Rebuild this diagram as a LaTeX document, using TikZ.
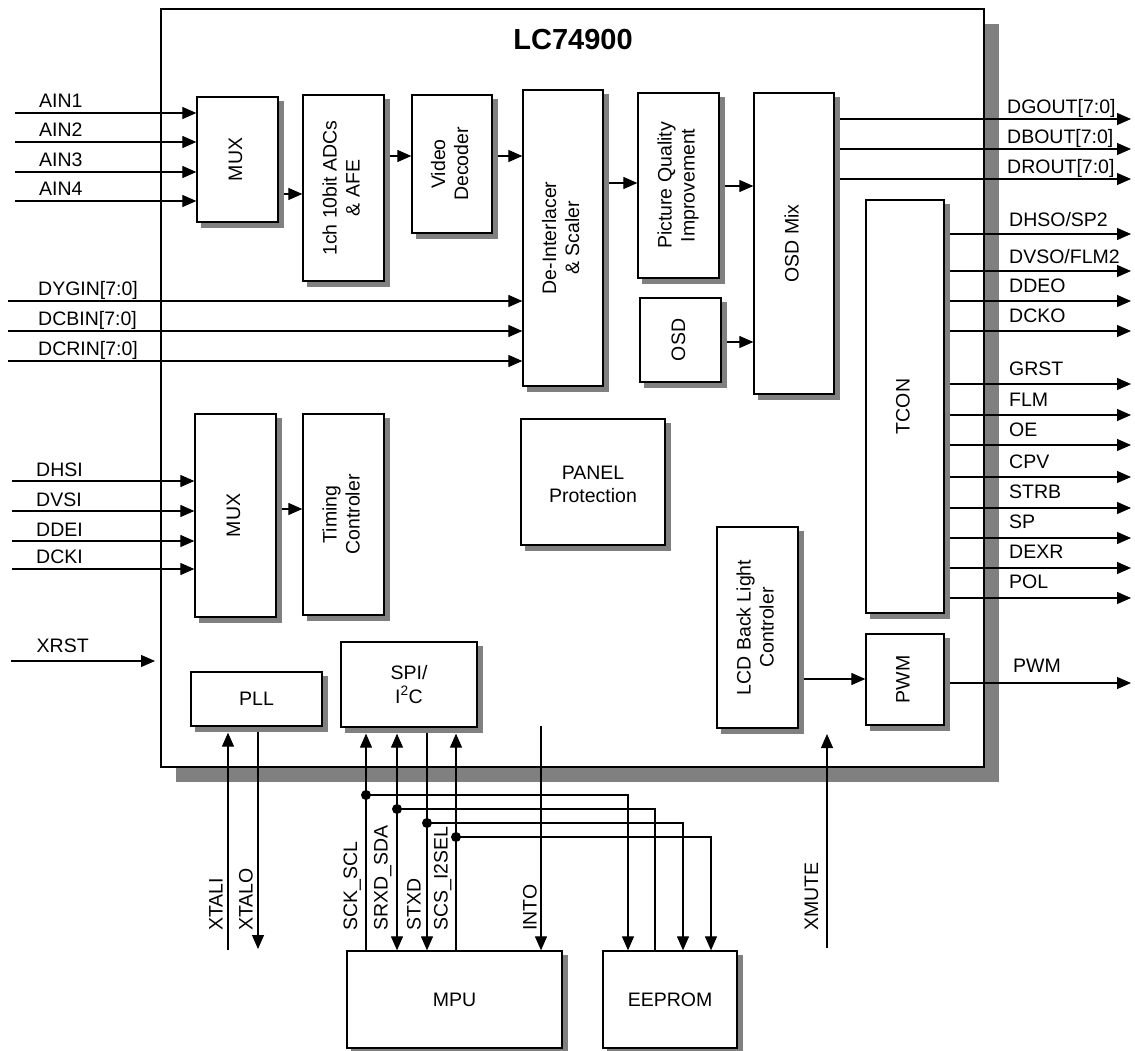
\documentclass[tikz,border=0pt]{standalone}
\usepackage{fontspec}
\usepackage{graphicx}
\setmainfont{Liberation Sans}
\usetikzlibrary{arrows.meta}
\definecolor{shgray}{RGB}{128,128,128}
\pgfdeclarelayer{bg}\pgfdeclarelayer{wires}\pgfdeclarelayer{shad}
\pgfsetlayers{bg,wires,shad,main}
\tikzset{
 blk/.style={draw, line width=1.3pt, fill=white, inner sep=0pt},
 wire/.style={line width=1.2pt},
 arr/.style={wire, -{Triangle[length=14pt,width=12pt]}},
 biarr/.style={wire, {Triangle[length=14pt,width=12pt]}-{Triangle[length=14pt,width=12pt]}},
 lbl/.style={inner sep=0pt, anchor=base west},
 vlbl/.style={inner sep=0pt, anchor=base west, rotate=90},
 jdot/.style={circle, fill, inner sep=0pt, minimum size=10pt},
}
\newcommand\vtxt[1]{\rotatebox{90}{\begin{tabular}{@{}c@{}}#1\end{tabular}}}
\newcommand\htxt[1]{\begin{tabular}{@{}c@{}}#1\end{tabular}}
\newcommand\blkat[6]{\node[blk, minimum width={#4-#2}, minimum height={#5-#3}] (#1) at ({(#2+#4)/2},{(#3+#5)/2}) {#6};
 \begin{pgfonlayer}{shad}\fill[shgray] ([shift={(5pt,-5pt)}]#1.south west) rectangle ([shift={(5pt,-5pt)}]#1.north east);\end{pgfonlayer}}
\begin{document}
\begin{tikzpicture}[x=1pt,y=-1pt,font=\fontsize{19.5}{23}\selectfont]
\useasboundingbox (0,0) rectangle (1135,1051);

% chip
\begin{pgfonlayer}{bg}
\fill[shgray] (176,24) rectangle (999,782);
\node[draw, line width=2.7pt, fill=white, inner sep=0pt, minimum width=823, minimum height=758] (chip) at (572.5,388) {};
\end{pgfonlayer}
\node[font=\bfseries\fontsize{29}{34}\selectfont, anchor=base, inner sep=0pt] (title) at (573,50) {LC74900};

% blocks
\blkat{mux1}{197}{97}{278}{222}{\vtxt{MUX}}
\blkat{adc}{303}{95}{384}{281}{\vtxt{1ch 10bit ADCs\\\& AFE}}
\blkat{vdec}{412}{95}{492}{233}{\vtxt{Video\\Decoder}}
\blkat{deint}{523}{90}{603}{386}{\vtxt{De-Interlacer\\\& Scaler}}
\blkat{pqi}{638}{93}{719}{278}{\vtxt{Picture Quality\\Improvement}}
\blkat{osd}{640}{298}{721}{382}{\vtxt{OSD}}
\blkat{osdmix}{754}{93}{834}{394}{\vtxt{OSD Mix}}
\blkat{tcon}{866}{200}{944}{613}{\vtxt{TCON}}
\blkat{pwmb}{866}{634}{944}{725}{\vtxt{PWM}}
\blkat{lcd}{717}{527}{798}{728}{\vtxt{LCD Back Light\\Controler}}
\blkat{panel}{521}{419}{665}{545}{\raisebox{-4pt}[\height][\depth]{\htxt{PANEL\\Protection}}}
\blkat{mux2}{195}{414}{276}{617}{\vtxt{MUX}}
\blkat{timing}{303}{414}{384}{615}{\vtxt{Timing\\Controler}}
\blkat{pll}{191}{672}{322}{726}{PLL}
\blkat{spi}{341}{642}{477}{727}{\raisebox{-2pt}[\height][\depth]{\htxt{SPI/\\I\textsuperscript{2}C}}}
\blkat{mpu}{347}{951}{562}{1048}{MPU}
\blkat{eeprom}{603}{951}{737}{1048}{EEPROM}

% junction dots
\node[jdot] (j1) at (366,795) {};
\node[jdot] (j2) at (397,809) {};
\node[jdot] (j3) at (427,823) {};
\node[jdot] (j4) at (456,837) {};

% free ends
\coordinate (ain1) at (15,113);
\coordinate (ain2) at (15,142);
\coordinate (ain3) at (15,172);
\coordinate (ain4) at (15,201);
\coordinate (dyg) at (8,301);
\coordinate (dcb) at (8,331);
\coordinate (dcr) at (8,361);
\coordinate (dhsi) at (12,481);
\coordinate (dvsi) at (12,511);
\coordinate (ddei) at (12,541);
\coordinate (dcki) at (12,569);
\coordinate (xrst) at (11,661);
\coordinate (xrstend) at (155,661);
\coordinate (dgo) at (1131,119);
\coordinate (dbo) at (1131,149);
\coordinate (dro) at (1131,179);
\coordinate (t1) at (1131,234);
\coordinate (t2) at (1131,271);
\coordinate (t3) at (1131,301);
\coordinate (t4) at (1131,331);
\coordinate (t5) at (1131,384);
\coordinate (t6) at (1131,415);
\coordinate (t7) at (1131,445);
\coordinate (t8) at (1131,477);
\coordinate (t9) at (1131,508);
\coordinate (t10) at (1131,538);
\coordinate (t11) at (1131,568);
\coordinate (t12) at (1131,598);
\coordinate (pwmo) at (1131,683);
\coordinate (xtali) at (228,950);
\coordinate (xtalo) at (258,949);
\coordinate (intostart) at (541,726);
\coordinate (xmute) at (827,948);
\coordinate (xmutetip) at (827,734);

\begin{pgfonlayer}{wires}
\foreach \c in {ain1,ain2,ain3,ain4} \draw[arr] (\c) -- (\c -| mux1.west);
\foreach \c in {dyg,dcb,dcr} \draw[arr] (\c) -- (\c -| deint.west);
\foreach \c in {dhsi,dvsi,ddei,dcki} \draw[arr] (\c) -- (\c -| mux2.west);
\draw[arr] (xrst) -- (xrstend);
\draw[arr] (mux1.east |- 0,194) -- (adc.west |- 0,194);
\draw[arr] (adc.east |- 0,156) -- (vdec.west |- 0,156);
\draw[arr] (vdec.east |- 0,156) -- (deint.west |- 0,156);
\draw[arr] (deint.east |- 0,183) -- (pqi.west |- 0,183);
\draw[arr] (pqi.east |- 0,186) -- (osdmix.west |- 0,186);
\draw[arr] (osd.east |- 0,342) -- (osdmix.west |- 0,342);
\draw[arr] (mux2.east |- 0,509) -- (timing.west |- 0,509);
\draw[arr] (lcd.east |- 0,679) -- (pwmb.west |- 0,679);
\foreach \c in {dgo,dbo,dro} \draw[arr] (osdmix.east |- \c) -- (\c);
\foreach \c in {t1,t2,t3,t4,t5,t6,t7,t8,t9,t10,t11,t12} \draw[arr] (tcon.east |- \c) -- (\c);
\draw[arr] (pwmb.east |- pwmo) -- (pwmo);
\draw[arr, shorten >=6pt] (xtali) -- (xtali |- pll.south);
\draw[arr] (xtalo |- pll.south) -- (xtalo);
\draw[arr, shorten >=6pt] (mpu.north -| 366,0) -- (spi.south -| 366,0);
\draw[biarr, shorten >=6pt] (mpu.north -| 397,0) -- (spi.south -| 397,0);
\draw[arr] (spi.south -| 427,0) -- (mpu.north -| 427,0);
\draw[arr, shorten >=6pt] (mpu.north -| 456,0) -- (spi.south -| 456,0);
\draw[arr] (j1.center) -| (eeprom.north -| 628,0);
\draw[wire] (j2.center) -| (eeprom.north -| 655,0);
\draw[arr] (j3.center) -| (eeprom.north -| 683,0);
\draw[arr] (j4.center) -| (eeprom.north -| 711,0);
\draw[arr] (intostart) -- (intostart |- mpu.north);
\draw[arr] (xmute) -- (xmutetip);
\end{pgfonlayer}

% left labels
\node[lbl] (lain1) at (39,108) {AIN1};
\node[lbl] (lain2) at (39,137) {AIN2};
\node[lbl] (lain3) at (39,167) {AIN3};
\node[lbl] (lain4) at (39,196) {AIN4};
\node[lbl] (ldyg) at (38,295) {DYGIN[7:0]};
\node[lbl] (ldcb) at (38,325) {DCBIN[7:0]};
\node[lbl] (ldcr) at (38,355) {DCRIN[7:0]};
\node[lbl] (ldhsi) at (36,476) {DHSI};
\node[lbl] (ldvsi) at (36,506) {DVSI};
\node[lbl] (lddei) at (36,536) {DDEI};
\node[lbl] (ldcki) at (36,563.5) {DCKI};
\node[lbl] (lxrst) at (36.5,652) {XRST};
% right labels
\node[lbl] (ldgo) at (1007,113.5) {DGOUT[7:0]};
\node[lbl] (ldbo) at (1007,143.5) {DBOUT[7:0]};
\node[lbl] (ldro) at (1007,173.5) {DROUT[7:0]};
\node[lbl] (lt1) at (1009,227) {DHSO/SP2};
\node[lbl] (lt2) at (1009,263) {DVSO/FLM2};
\node[lbl] (lt3) at (1009,292) {DDEO};
\node[lbl] (lt4) at (1009,322) {DCKO};
\node[lbl] (lt5) at (1009,375) {GRST};
\node[lbl] (lt6) at (1009,406) {FLM};
\node[lbl] (lt7) at (1009,436) {OE};
\node[lbl] (lt8) at (1009,468) {CPV};
\node[lbl] (lt9) at (1009,498.5) {STRB};
\node[lbl] (lt10) at (1009,528.5) {SP};
\node[lbl] (lt11) at (1009,558.5) {DEXR};
\node[lbl] (lt12) at (1009,588.5) {POL};
\node[lbl] (lpwm) at (1013,672) {PWM};
% rotated labels
\node[vlbl] (lxtali) at (222.5,931) {XTALI};
\node[vlbl] (lxtalo) at (252.5,931) {XTALO};
\node[vlbl] (lsck) at (357,931) {SCK\_SCL};
\node[vlbl] (lsda) at (387.5,931) {SRXD\_SDA};
\node[vlbl] (lstx) at (420.5,931) {STXD};
\node[vlbl] (lscs) at (447.5,931) {SCS\_I2SEL};
\node[vlbl] (linto) at (536.5,931) {INTO};
\node[vlbl] (lxmute) at (818,931) {XMUTE};
\end{tikzpicture}
\end{document}
